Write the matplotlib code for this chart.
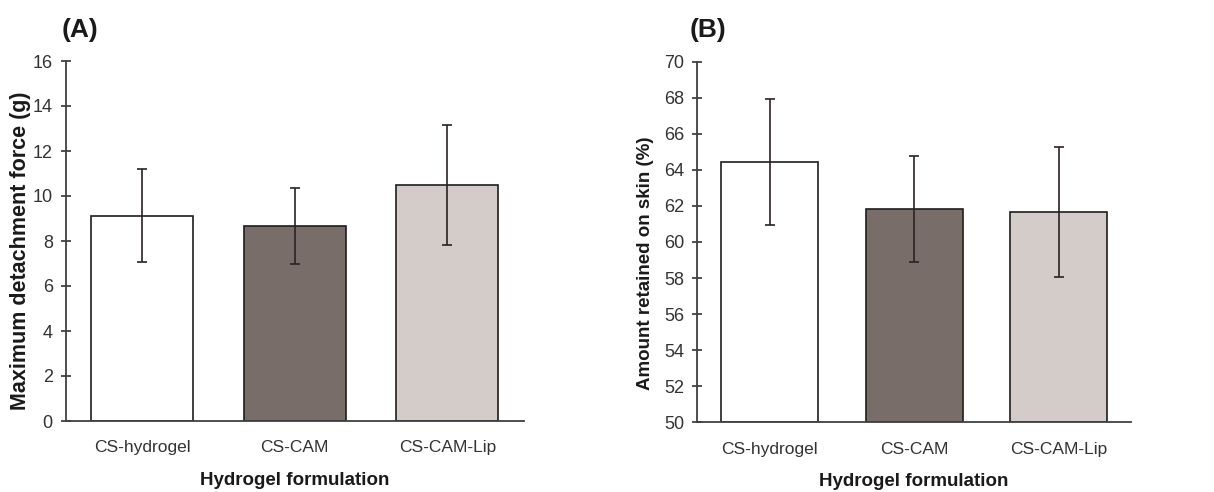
import matplotlib
matplotlib.use("Agg")
import matplotlib.pyplot as plt
import numpy as np

categories = ["CS-hydrogel", "CS-CAM", "CS-CAM-Lip"]
force_mean = [9.13, 8.68, 10.48]
force_err = [2.07, 1.68, 2.68]
retained_mean = [64.42, 61.83, 61.66]
retained_err = [3.49, 2.95, 3.60]
bar_colors = ["#ffffff", "#796d6a", "#d4ccc8"]

plt.rcParams['font.family'] = ['Liberation Sans', 'DejaVu Sans']

fig = plt.figure(figsize=(12.14, 4.92), dpi=100)
W, H = 1214, 492

def make_ax(left, right, bottom_px, top_px):
    return fig.add_axes([left / W, 1 - bottom_px / H, (right - left) / W, (bottom_px - top_px) / H])

axA = make_ax(66, 523.5, 421, 61)
axB = make_ax(697.3, 1131, 422.3, 61.7)

def draw(ax, means, errs, ylim, yticks, ylabel, ylabel_size, ylabel_x):
    x = np.arange(len(categories))
    ax.bar(x, np.array(means) - ylim[0], bottom=ylim[0], width=0.67, color=bar_colors,
           edgecolor="#1e1e1e", linewidth=1.2, zorder=2)
    ax.errorbar(x, means, yerr=errs, fmt='none', ecolor="#2a2222", elinewidth=1.2,
                capsize=3.5, capthick=1.2, zorder=3)
    ax.set_xlim(-0.5, len(categories) - 0.5)
    ax.set_ylim(*ylim)
    ax.set_yticks(yticks)
    ax.set_xticks(x)
    ax.set_xticklabels(categories, fontsize=12.5, color="#333333")
    ax.tick_params(axis='x', length=0, pad=14)
    ax.tick_params(axis='y', direction='inout', length=7, width=1.2, color="#333333",
                   labelsize=13, labelcolor="#333333", pad=6)
    for s in ['top', 'right']:
        ax.spines[s].set_visible(False)
    for s in ['left', 'bottom']:
        ax.spines[s].set_color("#404040")
        ax.spines[s].set_linewidth(1.3)
    ax.set_xlabel("Hydrogel formulation", fontsize=13.5, fontweight='bold', color="#1a1a1a", labelpad=12)
    ax.set_ylabel(ylabel, fontsize=ylabel_size, fontweight='bold', color="#1a1a1a")
    ax.yaxis.set_label_coords(ylabel_x, 0.5, transform=fig.transFigure)
    ax.yaxis.label.set_va('center')

draw(axA, force_mean, force_err, (0, 16), np.arange(0, 17, 2), "Maximum detachment force (g)",
     15.5, 21 / W)
draw(axB, retained_mean, retained_err, (50, 70), np.arange(50, 71, 2), "Amount retained on skin (%)",
     13.5, 645 / W)
axA.yaxis.label.set_y(1 - 251 / H)
axB.yaxis.label.set_y(1 - 263 / H)

fig.text(62 / W, 1 - 30 / H, "(A)", fontsize=19, fontweight='bold', va='center', ha='left', color="#1a1a1a")
fig.text(690 / W, 1 - 30 / H, "(B)", fontsize=19, fontweight='bold', va='center', ha='left', color="#1a1a1a")

fig.savefig("out.png", dpi=100)
